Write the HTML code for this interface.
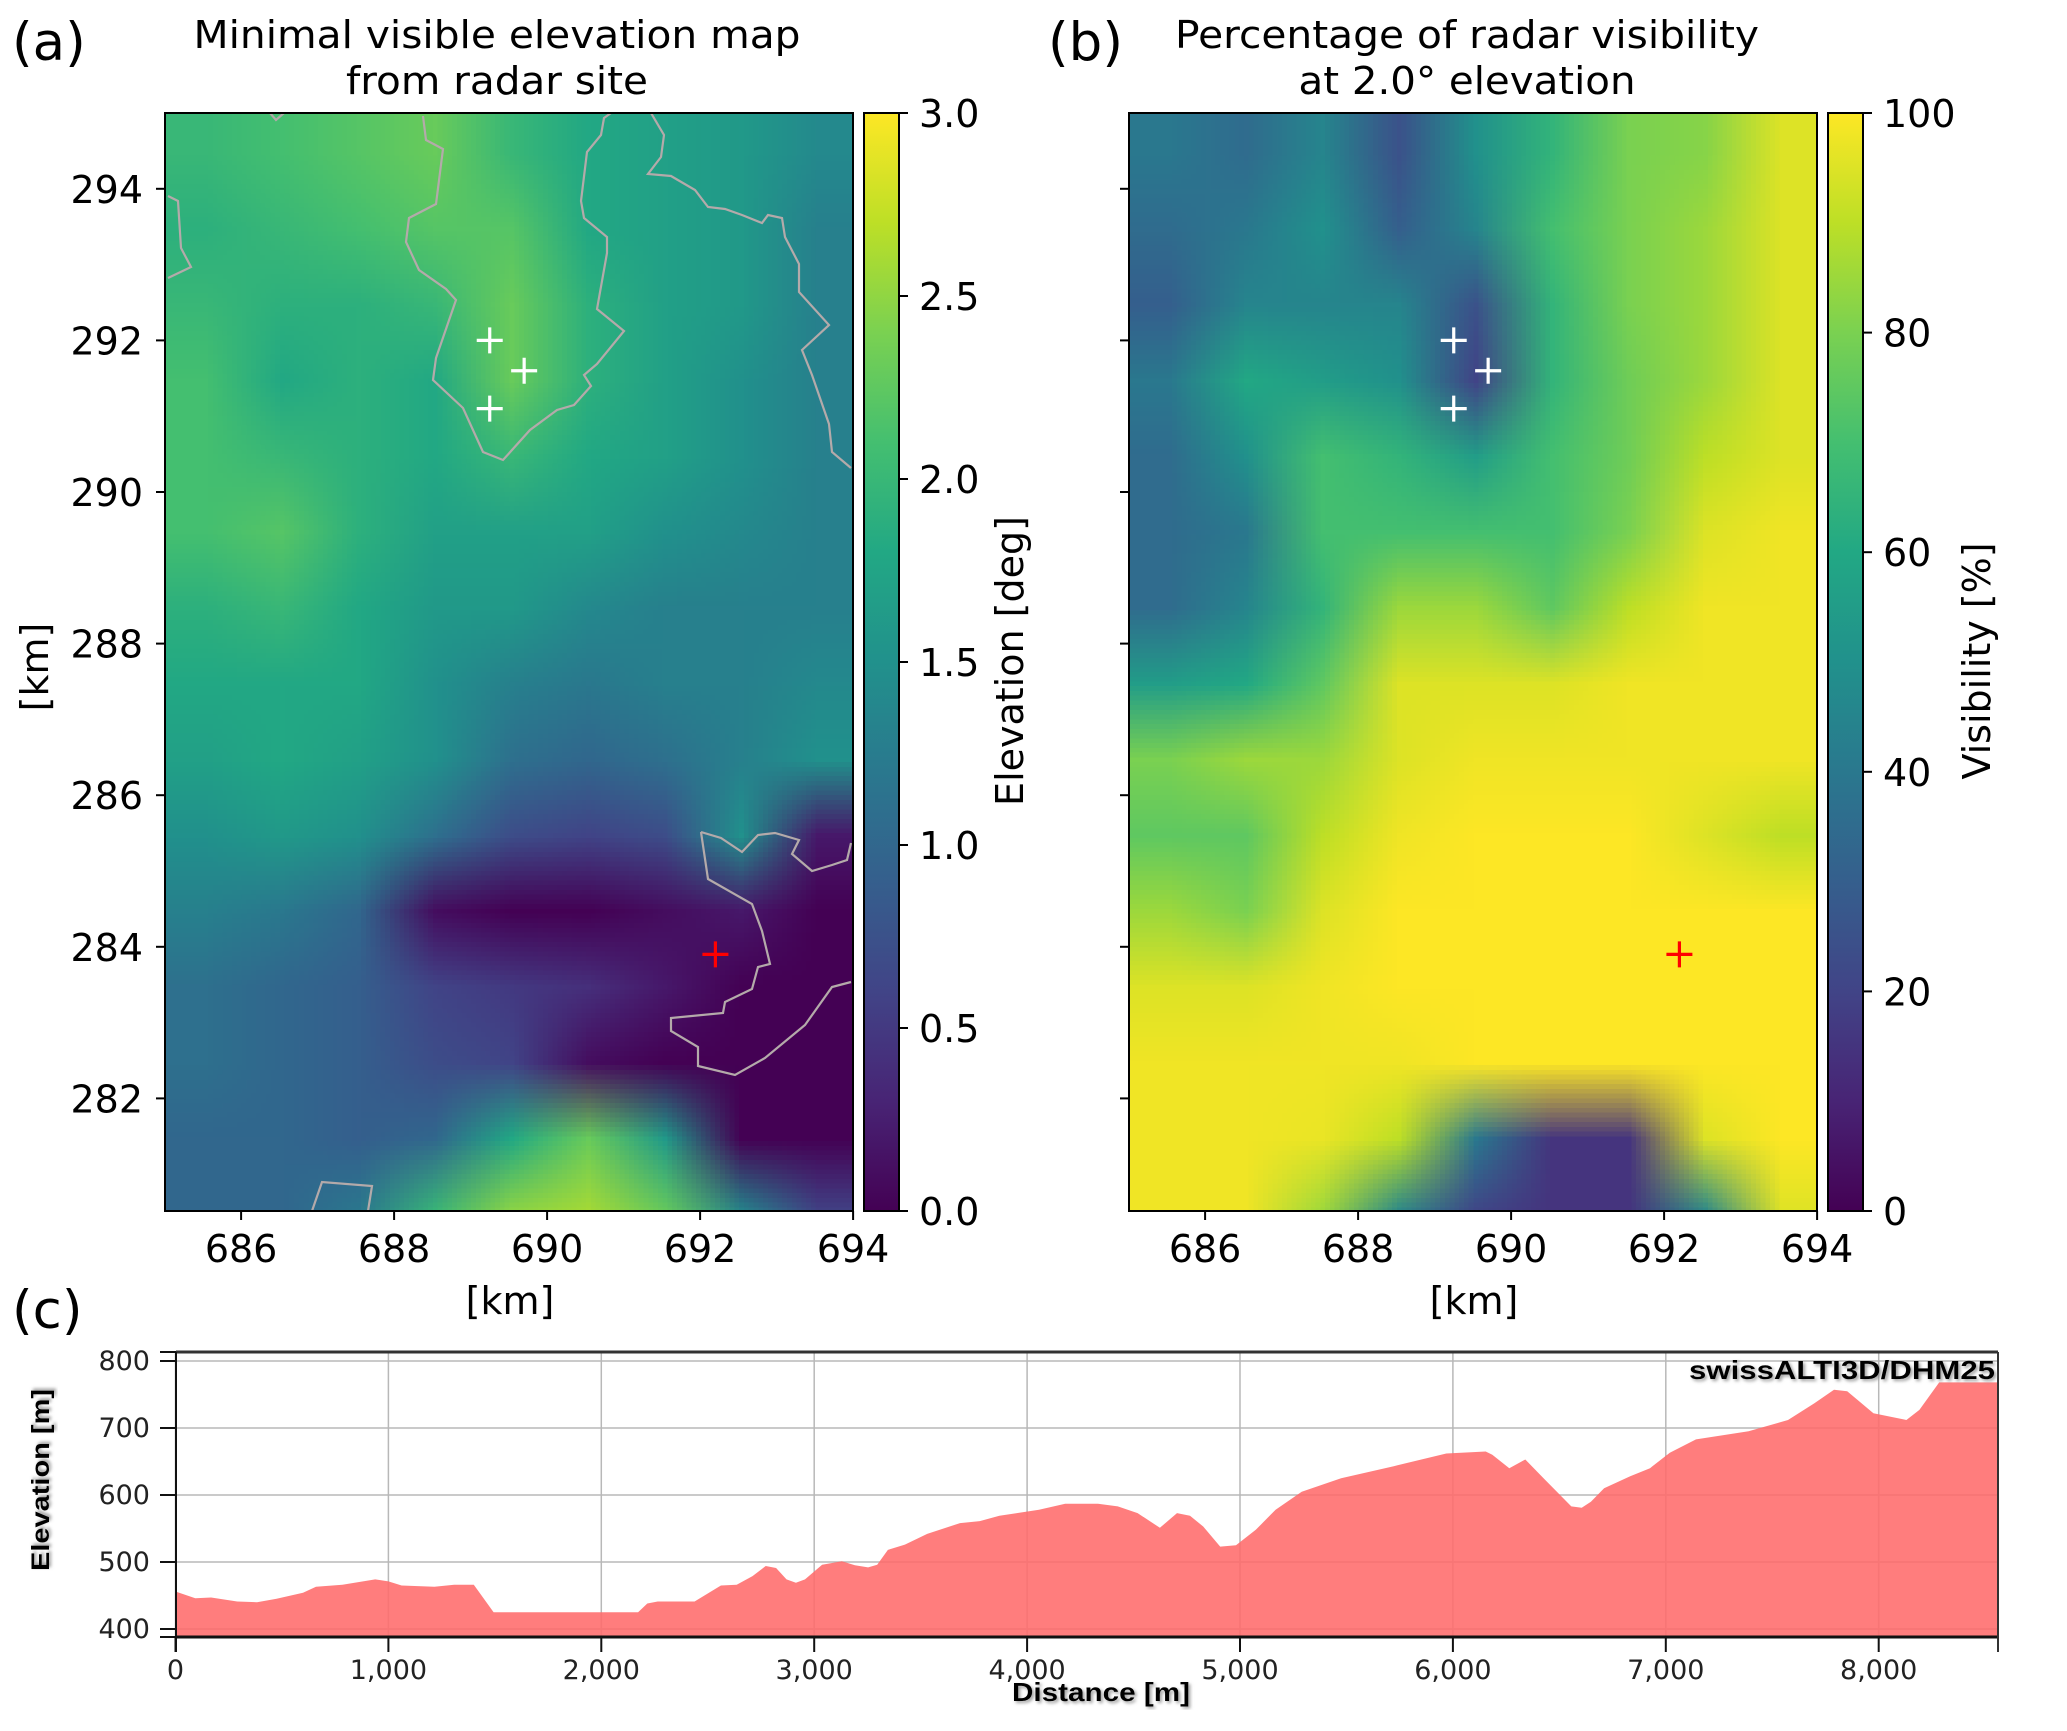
<!DOCTYPE html>
<html><head><meta charset="utf-8">
<style>
html,body{margin:0;padding:0;background:#fff;}
#root{position:relative;width:2067px;height:1731px;overflow:hidden;font-family:"DejaVu Sans","Liberation Sans",sans-serif;}
.hm{position:absolute;overflow:hidden;}
.hm canvas{position:absolute;left:0;top:0;}
svg{position:absolute;left:0;top:0;}
</style></head>
<body>
<div id="root">
  <div class="hm" id="wrapA" style="left:165px;top:113px;width:688px;height:1098px"><canvas id="cvA" width="9" height="15"></canvas></div>
  <div class="hm" id="wrapB" style="left:1129px;top:113px;width:688px;height:1098px"><canvas id="cvB" width="9" height="15"></canvas></div>
  <svg id="svg" width="2067" height="1731" viewBox="0 0 2067 1731" xmlns="http://www.w3.org/2000/svg">
    <defs>
      <linearGradient id="viridis" x1="0" y1="1" x2="0" y2="0">
        <stop offset="0" stop-color="#440154"/><stop offset="0.1" stop-color="#482475"/><stop offset="0.2" stop-color="#414487"/>
        <stop offset="0.3" stop-color="#355f8d"/><stop offset="0.4" stop-color="#2a788e"/><stop offset="0.5" stop-color="#21918c"/>
        <stop offset="0.6" stop-color="#22a884"/><stop offset="0.7" stop-color="#44bf70"/><stop offset="0.8" stop-color="#7ad151"/>
        <stop offset="0.9" stop-color="#bddf26"/><stop offset="1" stop-color="#fde725"/>
      </linearGradient>
      <filter id="shadow"><feDropShadow dx="2" dy="2" stdDeviation="1.5" flood-color="#888" flood-opacity="0.8"/></filter>
    </defs>
    <g id="gA"></g>
    <g id="gB"></g>
    <g id="gC"></g>
  </svg>
</div>
<script>
// ---------- Data: panel (a) minimal visible elevation [deg], rows top(294.5) -> bottom(280.5), cols 685.5..693.5
const elevRows = [
 [2.0,2.1,2.2,2.3,2.0,1.8,1.7,1.6,1.4],
 [1.9,2.0,2.1,2.2,2.2,1.8,1.7,1.6,1.3],
 [2.0,1.9,1.9,2.0,2.3,1.9,1.7,1.6,1.3],
 [2.1,1.8,1.9,1.8,2.3,1.9,1.7,1.5,1.3],
 [2.1,2.0,1.9,1.8,2.0,1.8,1.7,1.5,1.3],
 [2.1,2.2,1.9,1.7,1.7,1.7,1.5,1.4,1.3],
 [1.9,2.0,1.8,1.6,1.6,1.4,1.3,1.3,1.3],
 [1.8,1.8,1.8,1.5,1.3,1.2,1.3,1.3,1.4],
 [1.7,1.8,1.7,1.5,1.1,1.0,1.1,1.3,1.5],
 [1.5,1.6,1.5,1.1,0.7,0.6,0.7,1.5,0.2],
 [1.3,1.2,1.0,0.1,0.0,0.0,0.1,0.2,0.0],
 [1.1,1.0,0.9,0.6,0.5,0.4,0.2,0.0,0.0],
 [1.1,1.0,0.9,0.7,0.6,0.1,0.0,0.0,0.0],
 [1.0,1.0,0.9,1.0,1.8,2.3,1.6,0.0,0.0],
 [1.0,1.0,1.2,2.0,2.5,2.6,2.3,1.4,0.6]
];
// ---------- Data: panel (b) visibility [%]
const visRows = [
 [40,35,45,25,50,65,80,82,95],
 [35,40,50,30,45,70,80,85,95],
 [30,45,45,45,25,65,80,85,95],
 [40,60,55,50,20,65,78,85,95],
 [35,50,70,65,55,70,78,90,95],
 [35,40,70,70,70,70,80,95,98],
 [35,45,65,85,85,75,90,98,98],
 [55,60,75,95,95,95,98,98,98],
 [80,85,85,95,98,98,98,98,98],
 [75,75,90,98,100,100,100,95,90],
 [85,80,95,100,100,100,100,100,100],
 [95,95,98,100,100,100,100,100,100],
 [98,98,98,98,100,100,100,100,100],
 [98,98,97,90,40,15,15,95,100],
 [98,98,85,45,20,15,15,45,95]
];
const xTicksKm = [686,688,690,692,694];
const yTicksKm = [282,284,286,288,290,292,294];
const elevCbarTicks = [0.0,0.5,1.0,1.5,2.0,2.5,3.0];
const visCbarTicks = [0,20,40,60,80,100];
const whiteSites = [[689.25,292.0],[689.7,291.6],[689.25,291.1]];
const radarSite = [692.2,283.9];
// ---------- Data: panel (c) elevation profile
const profDist = [0,93,167,290,383,475,599,660,784,938,1000,1062,1216,1309,1401,1494,2173,2216,2265,2438,2562,2636,2710,2772,2821,2870,2914,2957,3037,3130,3191,3253,3296,3346,3426,3531,3685,3778,3870,4056,4179,4333,4426,4519,4624,4704,4765,4827,4907,4981,5074,5167,5290,5475,5722,5969,6154,6185,6265,6340,6432,6556,6605,6648,6710,6833,6926,7019,7142,7389,7574,7698,7790,7852,7975,8130,8191,8284,8563];
const profElev = [456,446,447,441,440,445,454,463,466,474,471,465,463,466,466,425,425,438,441,441,465,466,479,494,491,474,469,474,496,501,495,492,496,518,526,542,558,561,569,578,587,587,583,573,551,573,569,553,523,525,548,578,605,625,643,662,665,660,640,653,623,583,581,590,610,628,640,663,683,695,712,737,757,755,722,712,727,768,768];
const distTicks = [0,1000,2000,3000,4000,5000,6000,7000,8000];
const elevTicks = [400,500,600,700,800];

// ---------- helpers
const NS = 'http://www.w3.org/2000/svg';
function mk(tag, attrs, parent, text){
  const e = document.createElementNS(NS, tag);
  for (const k in attrs) e.setAttribute(k, attrs[k]);
  if (text !== undefined) e.textContent = text;
  parent.appendChild(e);
  return e;
}
const vstops = [[68,1,84],[72,36,117],[65,68,135],[53,95,141],[42,120,142],[33,145,140],[34,168,132],[68,191,112],[122,209,81],[189,223,38],[253,231,37]];
function viridis(t){
  t = Math.max(0, Math.min(1, t));
  const p = t*10, i = Math.min(9, Math.floor(p)), f = p - i;
  return vstops[i].map((c,k)=>Math.round(c + (vstops[i+1][k]-c)*f));
}

const KX0 = 164.6, KPX = 76.5, KY0 = 113, KPY = 75.8;
function xKm(v, off){ return off + KX0 + (v-685)*KPX; }
function yKm(v){ return KY0 + (295-v)*KPY; }

function drawHeat(cvId, rows, vmax){
  const cv = document.getElementById(cvId);
  const ctx = cv.getContext('2d');
  const img = ctx.createImageData(9, rows.length);
  rows.forEach((row, r)=>row.forEach((v, c)=>{
    const col = viridis(v/vmax); const i = (r*9+c)*4;
    img.data[i]=col[0]; img.data[i+1]=col[1]; img.data[i+2]=col[2]; img.data[i+3]=255;
  }));
  ctx.putImageData(img, 0, 0);
  cv.style.width = (9*KPX) + 'px';
  cv.style.height = (rows.length*KPY) + 'px';
}
drawHeat('cvA', elevRows, 3);
drawHeat('cvB', visRows, 100);

const bnd = [
 "M423,116 L426,140 L443,149 L436,204 L409,218 L406,242 L419,270 L446,289 L456,300 L436,358 L433,380 L463,408 L483,452 L503,460 L530,430 L557,410 L574,405 L591,386 L584,375 L597,364 L624,331 L597,309 L607,253 L607,237 L584,218 L581,201 L587,152 L601,135 L604,118 L611,113",
 "M651,113 L664,135 L661,157 L648,174 L671,176 L695,190 L708,207 L725,209 L742,215 L762,223 L768,215 L782,218 L785,237 L799,264 L799,292 L829,325 L802,350 L812,375 L829,424 L832,452 L851,468",
 "M168,196 L178,201 L181,248 L191,267 L168,278",
 "M270,113 L276,120 L284,113",
 "M701,832 L708,879 L752,904 L762,931 L770,964 L758,967 L752,989 L725,1002 L723,1013 L671,1018 L671,1031 L698,1047 L698,1066 L735,1075 L765,1058 L805,1025 L832,987 L851,982",
 "M701,832 L721,838 L742,852 L758,835 L775,833 L799,840 L792,854 L812,871 L832,865 L847,860 L851,843",
 "M312,1211 L322,1182 L372,1186 L368,1211"
];

function panel(g, off, opts){
  const cp = mk('clipPath',{id:'clip'+opts.id}, g);
  mk('rect',{x:off+165,y:113,width:688,height:1098}, cp);
  const bg = mk('g',{'clip-path':'url(#clip'+opts.id+')', transform:'translate('+off+',0)'}, g);
  
  
  bnd.forEach(d=>{ const p = mk('path',{d:d,fill:'none',stroke:'#b4aaaa','stroke-width':2.2}, bg);
    
     });
  whiteSites.forEach(s=>{
    const cx = xKm(s[0],off), cy = yKm(s[1]);
    const c = mk('path',{d:`M${cx-13},${cy}H${cx+13}M${cx},${cy-13}V${cy+13}`,stroke:'#fff','stroke-width':3.2}, g);
    
    
  });
  { const cx = xKm(radarSite[0],off), cy = yKm(radarSite[1]);
    const c = mk('path',{d:`M${cx-13},${cy}H${cx+13}M${cx},${cy-13}V${cy+13}`,stroke:'#f00','stroke-width':3.2}, g);
    
     }
  const fr = mk('rect',{x:off+165,y:113,width:688,height:1098,fill:'none',stroke:'#000','stroke-width':2}, g);
  
  
  xTicksKm.forEach(v=>{
    const x = xKm(v,off);
    mk('line',{x1:x,x2:x,y1:1211,y2:1220,stroke:'#000','stroke-width':2}, g);
    const t = mk('text',{x:x,y:1262,'text-anchor':'middle','font-size':38,fill:'#000'}, g, String(v));
    
    
  });
  yTicksKm.forEach(v=>{
    const y = yKm(v);
    mk('line',{x1:off+156,x2:off+165,y1:y,y2:y,stroke:'#000','stroke-width':2}, g);
    if (opts.ylabels){
      const t = mk('text',{x:off+143,y:y+14,'text-anchor':'end','font-size':38,fill:'#000'}, g, String(v));
      
      
    }
  });
  const xl = mk('text',{x:off+510,y:1314,'text-anchor':'middle','font-size':38}, g, '[km]');
  
  
  if (opts.ylabels){
    const yl = mk('text',{x:0,y:0,'text-anchor':'middle','font-size':38,transform:'translate(48,667) rotate(-90)'}, g, '[km]');
    
    
  }
  const cb = mk('rect',{x:off+864,y:113,width:35,height:1098,fill:'url(#viridis)',stroke:'#000','stroke-width':2}, g);
  
  
  opts.cticks.forEach(v=>{
    const y = 1211 - v/opts.cmax*1098;
    mk('line',{x1:off+899,x2:off+908,y1:y,y2:y,stroke:'#000','stroke-width':2}, g);
    const t = mk('text',{x:off+919,y:y+14,'font-size':38}, g, opts.cfmt(v));
    
    
  });
  const cl = mk('text',{x:0,y:0,'text-anchor':'middle','font-size':38,transform:`translate(${off+opts.clx},661) rotate(-90)`}, g, opts.clabel);
  
  
  const t1 = mk('text',{x:opts.tx,y:48,'text-anchor':'middle','font-size':38,textLength:opts.tl1,lengthAdjust:'spacingAndGlyphs'}, g, opts.t1);
  
  
  const t2 = mk('text',{x:opts.tx,y:94,'text-anchor':'middle','font-size':38,textLength:opts.tl2,lengthAdjust:'spacingAndGlyphs'}, g, opts.t2);
  
  
  const pl = mk('text',{x:opts.lx,y:60,'font-size':53}, g, opts.letter);
  
  
}
panel(document.getElementById('gA'), 0, {id:'A', ylabels:true, cticks:elevCbarTicks, cmax:3, cfmt:v=>v.toFixed(1),
  clabel:'Elevation [deg]', clx:1023, tx:497, t1:'Minimal visible elevation map', t2:'from radar site', tl1:607, tl2:302, letter:'(a)', lx:12});
panel(document.getElementById('gB'), 964, {id:'B', ylabels:false, cticks:visCbarTicks, cmax:100, cfmt:v=>String(v),
  clabel:'Visibility [%]', clx:1026, tx:1467, t1:'Percentage of radar visibility', t2:'at 2.0\u00b0 elevation', tl1:584, tl2:337, letter:'(b)', lx:1048});

// ---------- panel (c)
const gC = document.getElementById('gC');
const CX0 = 175.5, CPX = 0.2129, CY400 = 1629, CPY = 0.67;
function xD(d){ return CX0 + d*CPX; }
function yE(e){ return CY400 - (e-400)*CPY; }
const cl = mk('text',{x:12,y:1328,'font-size':53}, gC, '(c)');


distTicks.forEach(d=>{
  const x = xD(d);
  const gl = mk('line',{x1:x,x2:x,y1:1352,y2:1637,stroke:'#b8b8b8','stroke-width':1.5}, gC);
  
  
});
elevTicks.forEach(e=>{
  const y = yE(e);
  const gl = mk('line',{x1:176,x2:1998,y1:y,y2:y,stroke:'#b8b8b8','stroke-width':1.5}, gC);
  
  
});
let d = `M${xD(profDist[0])},${yE(390)}`;
profDist.forEach((v,i)=>{ d += ` L${xD(v).toFixed(1)},${yE(profElev[i]).toFixed(1)}`; });
d += ` L${xD(profDist[profDist.length-1]).toFixed(1)},${yE(390)} Z`;
const area = mk('path',{d:d,fill:'#ff6b6b','fill-opacity':0.88}, gC);


mk('line',{x1:176,x2:1998,y1:1352,y2:1352,stroke:'#333','stroke-width':3}, gC);
mk('line',{x1:176,x2:1998,y1:1637,y2:1637,stroke:'#111','stroke-width':3}, gC);
mk('line',{x1:176,x2:176,y1:1352,y2:1652,stroke:'#111','stroke-width':2}, gC);
mk('line',{x1:1998,x2:1998,y1:1352,y2:1652,stroke:'#333','stroke-width':2}, gC);
mk('line',{x1:160,x2:176,y1:1352,y2:1352,stroke:'#111','stroke-width':2}, gC);
mk('line',{x1:160,x2:176,y1:1637,y2:1637,stroke:'#111','stroke-width':2}, gC);
elevTicks.forEach(e=>{
  const y = yE(e);
  mk('line',{x1:160,x2:176,y1:y,y2:y,stroke:'#111','stroke-width':2}, gC);
  const t = mk('text',{x:150,y:y+9,'text-anchor':'end','font-size':27,fill:'#222'}, gC, String(e));
  
  
});
distTicks.forEach(v=>{
  const x = xD(v);
  mk('line',{x1:x,x2:x,y1:1637,y2:1652,stroke:'#111','stroke-width':2}, gC);
  const t = mk('text',{x:x,y:1679,'text-anchor':'middle','font-size':27,fill:'#222'}, gC, v.toLocaleString('en-US'));
  
  
});
const xt = mk('text',{x:1101,y:1701,'text-anchor':'middle','font-size':26,'font-weight':'bold','font-family':'Liberation Sans, sans-serif',textLength:178,lengthAdjust:'spacingAndGlyphs',filter:'url(#shadow)'}, gC, 'Distance [m]');


const yt = mk('text',{x:0,y:0,'text-anchor':'middle','font-size':25,'font-weight':'bold','font-family':'Liberation Sans, sans-serif',textLength:182,lengthAdjust:'spacingAndGlyphs',transform:'translate(49,1480) rotate(-90)',filter:'url(#shadow)'}, gC, 'Elevation [m]');


const src = mk('text',{x:1995,y:1379,'text-anchor':'end','font-size':26,'font-weight':'bold','font-family':'Liberation Sans, sans-serif',textLength:306,lengthAdjust:'spacingAndGlyphs',filter:'url(#shadow)'}, gC, 'swissALTI3D/DHM25');


</script>
</body></html>
